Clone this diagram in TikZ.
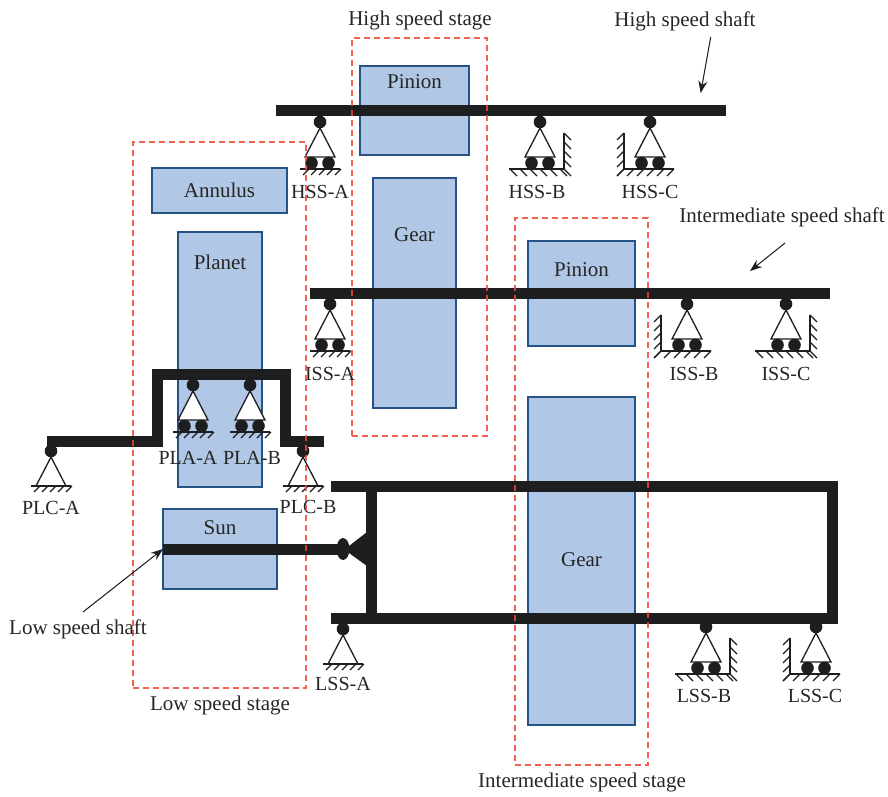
\documentclass[tikz,border=0pt]{standalone}
\usepackage{fontspec}
\setmainfont{Liberation Serif}
\usepackage{tikz}
\usetikzlibrary{arrows.meta,positioning,calc}
\definecolor{gearblue}{RGB}{176,199,230}
\definecolor{geardark}{RGB}{38,82,133}
\definecolor{stagered}{RGB}{240,70,50}
\definecolor{shaftblack}{RGB}{29,30,32}

\begin{document}
\begin{tikzpicture}[
    x=1pt, y=-1pt,
    gearbox/.style={rectangle, draw=geardark, line width=1.1pt, fill=gearblue, inner sep=0pt, outer sep=0pt},
    stagebox/.style={rectangle, draw=stagered, line width=1.1pt, dash pattern=on 6pt off 4pt, opacity=0.85,
                     inner sep=0pt, outer sep=0pt},
    txt/.style={font=\fontsize{21}{24}\selectfont, text=black!85, inner sep=0pt},
    suptxt/.style={font=\fontsize{20}{24}\selectfont, text=black!85, inner sep=0pt},
    shaft/.style={draw=shaftblack, line width=11pt, line cap=butt, line join=miter},
    arr/.style={-{Stealth[length=12pt,width=9pt]}, line width=1pt, draw=shaftblack, fill=shaftblack},
    supline/.style={draw=shaftblack, line width=1.3pt},
    % bare pin and triangle, base 35 below the pin centre
    pinsup/.pic={
        \draw[supline, fill=white] (0,6) -- (-15,35) -- (15,35) -- cycle;
        \fill[shaftblack] (0,0) circle (6.3);
    },
    groundsup/.pic={
        \draw[supline] (-20,0) -- (20,0);
        \foreach \hx in {-11,-3,5,13,21}
            \draw[supline] (\hx,0) -- ++(-6,6);
    },
    fixedsup/.pic={
        \pic at (0,0) {pinsup};
        \pic at (0,35) {groundsup};
    },
    rollers/.pic={
        \pic at (0,0) {pinsup};
        \fill[shaftblack] (-8.5,41) circle (6.3) (8.5,41) circle (6.3);
    },
    rollersup/.pic={
        \pic at (0,0) {rollers};
        \pic at (0,47) {groundsup};
    },
    wallrsup/.pic={
        \pic at (0,0) {rollers};
        \draw[supline] (-31,47) -- (24,47) -- (24,11);
        \foreach \hx in {-30,-20,-10,0,10,20}
            \draw[supline] (\hx,47) -- ++(7,7);
        \foreach \hy in {11,20,29,38,47}
            \draw[supline] (24,\hy) -- ++(7,7);
    },
    walllsup/.pic={
        \pic at (0,0) {rollers};
        \draw[supline] (24,47) -- (-26,47) -- (-26,11);
        \foreach \hx in {-26,-16,-6,4,14,24}
            \draw[supline] (\hx,47) -- ++(-7,7);
        \foreach \hy in {11,20,29,38,47}
            \draw[supline] (-26,\hy) -- ++(-7,7);
    }
]
    \useasboundingbox (0,0) rectangle (888,797);

    % Gear bodies
    \node[gearbox, minimum width=109pt, minimum height=89pt] (hpinion) at (414.5,110.5) {};
    \node[gearbox, minimum width=83pt, minimum height=230pt] (hgear) at (414.5,293) {};
    \node[gearbox, minimum width=135pt, minimum height=45pt] (annulus) at (219.5,190.5) {};
    \node[gearbox, minimum width=84pt, minimum height=255pt] (planet) at (220,359.5) {};
    \node[gearbox, minimum width=114pt, minimum height=80pt] (sun) at (220,549) {};
    \node[gearbox, minimum width=107pt, minimum height=105pt] (ipinion) at (581.5,293.5) {};
    \node[gearbox, minimum width=107pt, minimum height=328pt] (igear) at (581.5,561) {};

    \node[txt] (hpiniontxt) at (414.5,82) {Pinion};
    \node[txt] (hgeartxt) at (414.5,235) {Gear};
    \node[txt] (annulustxt) at (219.5,190.5) {Annulus};
    \node[txt] (planettxt) at (220,262.5) {Planet};
    \node[txt] (suntxt) at (220,527.5) {Sun};
    \node[txt] (ipiniontxt) at (581.5,270) {Pinion};
    \node[txt] (igeartxt) at (581.5,560) {Gear};

    % Shafts
    \draw[shaft] (276,111) -- (726,111);
    \draw[shaft] (310,293.5) -- (830,293.5);
    \draw[shaft] (47,441.5) -- (157.5,441.5) -- (157.5,374.5) -- (285.5,374.5) -- (285.5,441.5) -- (324,441.5);
    \draw[shaft] (331,486.5) -- (832.5,486.5) -- (832.5,618.5) -- (331,618.5);
    \draw[shaft] (371.5,486.5) -- (371.5,618.5);
    \draw[shaft] (163,549.5) -- (345,549.5);
    \fill[shaftblack] (343,549) ellipse (6.5 and 11);
    \fill[shaftblack] (349,546) -- (367,532) -- (367,566) -- (349,553) -- cycle;

    % Supports
    \pic at (320,122) {rollersup};
    \pic at (540,122) {wallrsup};
    \pic at (650,122) {walllsup};
    \pic at (330,304) {rollersup};
    \pic at (687,304) {walllsup};
    \pic at (786,304) {wallrsup};
    \pic at (193,385) {rollersup};
    \pic at (250,385) {rollersup};
    \pic at (51,451) {fixedsup};
    \pic at (303,451) {fixedsup};
    \pic at (343,629) {fixedsup};
    \pic at (706,627) {wallrsup};
    \pic at (816,627) {walllsup};

    \node[suptxt] (hssa) at (320,192) {HSS-A};
    \node[suptxt] (hssb) at (537,192) {HSS-B};
    \node[suptxt] (hssc) at (650,192) {HSS-C};
    \node[suptxt] (issa) at (330,374) {ISS-A};
    \node[suptxt] (issb) at (694,374) {ISS-B};
    \node[suptxt] (issc) at (786,374) {ISS-C};
    \node[suptxt] (plaa) at (188,458) {PLA-A};
    \node[suptxt] (plab) at (252,458) {PLA-B};
    \node[suptxt] (plca) at (51,507.5) {PLC-A};
    \node[suptxt] (plcb) at (308,507) {PLC-B};
    \node[suptxt] (lssa) at (343,684) {LSS-A};
    \node[suptxt] (lssb) at (704,696) {LSS-B};
    \node[suptxt] (lssc) at (815,696) {LSS-C};

    % Stage frames
    \node[stagebox, minimum width=135pt, minimum height=398pt] (hstage) at (419.5,237) {};
    \node[stagebox, minimum width=173pt, minimum height=546pt] (lstage) at (219.5,415) {};
    \node[stagebox, minimum width=133pt, minimum height=547pt] (istage) at (581.5,491.5) {};

    \node[txt] (hstagetxt) at (420,20.5) {High speed stage};
    \node[txt] (lstagetxt) at (220,705.5) {Low speed stage};
    \node[txt] (istagetxt) at (582,782.5) {Intermediate speed stage};

    % Shaft labels
    \node[txt] (hshaft) at (685,21.5) {High speed shaft};
    \node[txt] (ishaft) at (782,217.5) {Intermediate speed shaft};
    \node[txt] (lshaft) at (78,629.5) {Low speed shaft};
    \coordinate (hshaftstart) at (710.7,37);
    \coordinate (hshaftend) at (700.7,93);
    \coordinate (ishaftstart) at (785,243);
    \coordinate (ishaftend) at (750,271);
    \coordinate (lshaftstart) at (83,612);
    \coordinate (lshaftend) at (163,549);
    \draw[arr] (hshaftstart) -- (hshaftend);
    \draw[arr] (ishaftstart) -- (ishaftend);
    \draw[arr] (lshaftstart) -- (lshaftend);
\end{tikzpicture}
\end{document}
